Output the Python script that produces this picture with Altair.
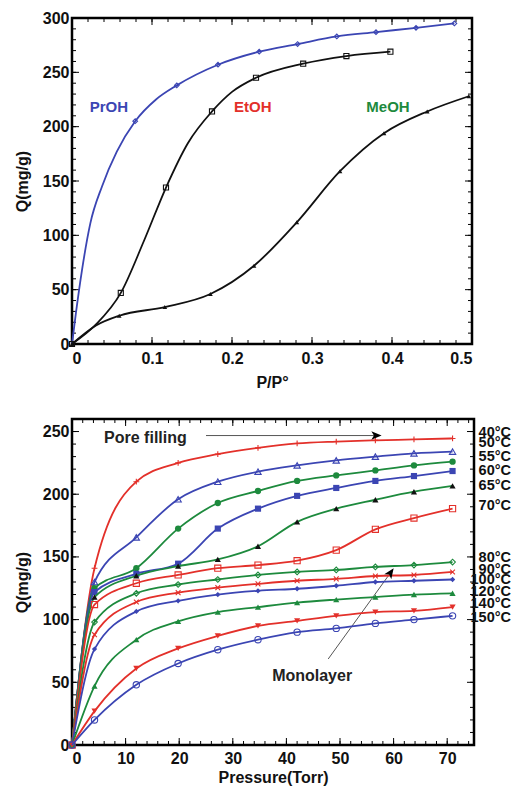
import altair as alt
import pandas as pd

FONT = "Liberation Sans"
RED = "#e3302a"
BLUE = "#3b45b3"
GREEN = "#1d8a3d"
BLACK = "#111111"

# ---------------- Top panel: alcohol isotherms ----------------
proh_x = [0, 0.005, 0.0125, 0.0229, 0.0375, 0.056, 0.079, 0.105, 0.131, 0.1825, 0.234, 0.282, 0.331, 0.38, 0.43, 0.478]
proh_q = [0, 29, 68, 111, 145, 177, 205, 225, 238, 257, 269, 276, 283, 287, 291, 295]
proh_mark = [0, 0, 0, 0, 0, 0, 1, 0, 1, 1, 1, 1, 1, 1, 1, 1]

etoh_x = [0, 0.03, 0.061, 0.09, 0.1175, 0.145, 0.175, 0.2, 0.23, 0.289, 0.343, 0.398]
etoh_q = [0, 18, 47, 95, 144, 185, 214, 232, 245, 258, 265, 269]
etoh_mark = [1, 0, 1, 0, 1, 0, 1, 0, 1, 1, 1, 1]

meoh_x = [0, 0.03, 0.059, 0.116, 0.173, 0.2275, 0.281, 0.335, 0.39, 0.444, 0.496]
meoh_q = [0, 17, 26, 34, 46, 72, 112, 159, 194, 214, 228]
meoh_mark = [1, 0, 1, 1, 1, 1, 1, 1, 1, 1, 1]

top_names = ["PrOH", "EtOH", "MeOH"]
top_label_x = [0.046, 0.226, 0.395]
top_label_q = [218, 218, 218]

top_x_major = [0, 0.1, 0.2, 0.3, 0.4, 0.5]
top_x_minor = [round(i * 0.02, 2) for i in range(26)]
top_y_major = [0, 50, 100, 150, 200, 250, 300]
top_y_minor = list(range(0, 301, 10))

# ---------------- Bottom panel: temperature isotherms ----------------
pressure = [0, 4.2, 12, 19.8, 27.2, 34.7, 42, 49.3, 56.6, 63.8, 71]
temps = ["40°C", "50°C", "55°C", "60°C", "65°C", "70°C",
         "80°C", "90°C", "100°C", "120°C", "140°C", "150°C"]
q_40 = [0, 141, 210, 225, 232, 237, 240.5, 242, 243, 243.7, 244.5]
q_50 = [0, 130, 165.6, 196, 210, 218, 223, 227, 230, 232.6, 234]
q_55 = [0, 125, 141, 172.6, 193, 202.6, 210.6, 215, 219, 223, 226]
q_60 = [0, 122, 136.5, 144.6, 172.6, 188.5, 198.7, 205, 210.6, 214.5, 218.5]
q_65 = [0, 118, 135, 142.6, 148, 158.5, 178, 188.5, 195.6, 202, 206.6]
q_70 = [0, 112, 129, 135.6, 141, 143.5, 147, 155.4, 172, 181, 188.5]
q_80 = [0, 98, 121, 128, 132, 135.6, 138, 139.6, 142, 143.5, 145.9]
q_90 = [0, 88, 114, 121.5, 125.5, 128.5, 131, 132.5, 134.8, 135.6, 138]
q_100 = [0, 76.5, 106.5, 115, 120, 123, 124.6, 127, 130, 131, 132]
q_120 = [0, 47, 84, 98.6, 106, 110, 113.6, 116, 118, 120, 121]
q_140 = [0, 27, 61, 77, 87, 95, 99, 103, 106, 107, 110]
q_150 = [0, 20, 48, 65, 76, 84, 90, 93, 97, 100, 103]
bottom_q = [q_40, q_50, q_55, q_60, q_65, q_70, q_80, q_90, q_100, q_120, q_140, q_150]
temp_label_q = [249, 240.5, 229.5, 218.5, 206.5, 191, 149, 139.5, 131.5, 122, 112.5, 101]

bot_x_major = [0, 10, 20, 30, 40, 50, 60, 70]
bot_x_minor = list(range(0, 75, 2))
bot_y_major = [0, 50, 100, 150, 200, 250]
bot_y_minor = list(range(0, 261, 10))

# ---------------- styles ----------------
PLUS = "M-1,0L1,0M0,-1L0,1"
XMARK = "M-0.8,-0.8L0.8,0.8M-0.8,0.8L0.8,-0.8"
ARROW = "M0,-1L0.75,0.8L0,0.35L-0.75,0.8Z"

top_styles = [
    dict(line=BLUE, mcolor=BLUE, shape="diamond", filled=False, size=22, text=BLUE),
    dict(line=BLACK, mcolor=BLACK, shape="square", filled=False, size=26, text=RED),
    dict(line=BLACK, mcolor=BLACK, shape="triangle-up", filled=True, size=22, text=GREEN),
]
bottom_styles = [
    dict(line=RED, mcolor=RED, shape=PLUS, filled=False, size=34),
    dict(line=BLUE, mcolor=BLUE, shape="triangle-up", filled=False, size=40),
    dict(line=GREEN, mcolor=GREEN, shape="circle", filled=True, size=40),
    dict(line=BLUE, mcolor=BLUE, shape="square", filled=True, size=38),
    dict(line=GREEN, mcolor=BLACK, shape="triangle-up", filled=True, size=38),
    dict(line=RED, mcolor=RED, shape="square", filled=False, size=38),
    dict(line=GREEN, mcolor=GREEN, shape="diamond", filled=False, size=32),
    dict(line=RED, mcolor=RED, shape=XMARK, filled=False, size=36),
    dict(line=BLUE, mcolor=BLUE, shape="diamond", filled=True, size=28),
    dict(line=GREEN, mcolor=GREEN, shape="triangle-up", filled=True, size=38),
    dict(line=RED, mcolor=RED, shape="triangle-down", filled=True, size=38),
    dict(line=BLUE, mcolor=BLUE, shape="circle", filled=False, size=40),
]


def frame_ticks(X, Y, xmaj, xmin, ymaj, ymin, W, H, big=7, small=4):
    layers = []
    for vals, L in ((xmin, small), (xmaj, big)):
        c = alt.Chart(pd.DataFrame({"x": vals}))
        layers.append(c.mark_rule(color="black", strokeWidth=1).encode(x=X, y=alt.value(H), y2=alt.value(H - L)))
        layers.append(c.mark_rule(color="black", strokeWidth=1).encode(x=X, y=alt.value(0), y2=alt.value(L)))
    for vals, L in ((ymin, small), (ymaj, big)):
        c = alt.Chart(pd.DataFrame({"y": vals}))
        layers.append(c.mark_rule(color="black", strokeWidth=1).encode(y=Y, x=alt.value(0), x2=alt.value(L)))
        layers.append(c.mark_rule(color="black", strokeWidth=1).encode(y=Y, x=alt.value(W), x2=alt.value(W - L)))
    return layers


def series_layers(X, Y, xs, qs, marks, st):
    df = pd.DataFrame({"x": xs, "y": qs, "m": marks})
    line = alt.Chart(df).mark_line(color=st["line"], strokeWidth=1.8, interpolate="monotone").encode(x=X, y=Y)
    pts = alt.Chart(df[df["m"] == 1]).mark_point(
        shape=st["shape"], filled=st["filled"], color=st["mcolor"], size=st["size"],
        strokeWidth=1.1, opacity=1).encode(x=X, y=Y)
    return [line, pts]


# ---------------- top chart ----------------
TW, TH = 400, 326
Xt = alt.X("x:Q", scale=alt.Scale(domain=[0, 0.5], nice=False, zero=False),
           axis=alt.Axis(values=top_x_major, format="~g", title="P/P°", labelPadding=6, titlePadding=8))
Yt = alt.Y("y:Q", scale=alt.Scale(domain=[0, 300], nice=False),
           axis=alt.Axis(values=top_y_major, title="Q(mg/g)"))

top_layers = frame_ticks(Xt, Yt, top_x_major, top_x_minor, top_y_major, top_y_minor, TW, TH)
for xs, qs, mk, st in ((proh_x, proh_q, proh_mark, top_styles[0]),
                       (etoh_x, etoh_q, etoh_mark, top_styles[1]),
                       (meoh_x, meoh_q, meoh_mark, top_styles[2])):
    top_layers += series_layers(Xt, Yt, xs, qs, mk, st)
for name, lx, lq, st in zip(top_names, top_label_x, top_label_q, top_styles):
    d = pd.DataFrame({"x": [lx], "y": [lq], "t": [name]})
    top_layers.append(alt.Chart(d).mark_text(font=FONT, fontWeight="bold", fontSize=15, color=st["text"])
                      .encode(x=Xt, y=Yt, text="t:N"))
top = alt.layer(*top_layers).properties(width=TW, height=TH)

# ---------------- bottom chart ----------------
BW, BH = 402, 326
Xb = alt.X("x:Q", scale=alt.Scale(domain=[0, 75], nice=False, zero=False),
           axis=alt.Axis(values=bot_x_major, title="Pressure(Torr)", labelPadding=5, titlePadding=3))
Yb = alt.Y("y:Q", scale=alt.Scale(domain=[0, 260], nice=False),
           axis=alt.Axis(values=bot_y_major, title="Q(mg/g)"))

bot_layers = frame_ticks(Xb, Yb, bot_x_major, bot_x_minor, bot_y_major, bot_y_minor, BW, BH)

# annotations (gray leader lines + black arrow heads)
pore_line = pd.DataFrame({"x": [25, 56.7], "y": [246.8, 246.8]})
mono_line = pd.DataFrame({"x": [47.8, 59.4], "y": [68.6, 137.2]})
bot_layers.append(alt.Chart(pore_line).mark_line(color="#555555", strokeWidth=1).encode(x=Xb, y=Yb))
bot_layers.append(alt.Chart(mono_line).mark_line(color="#555555", strokeWidth=1).encode(x=Xb, y=Yb))

for qs, st in zip(bottom_q, bottom_styles):
    bot_layers += series_layers(Xb, Yb, pressure, qs, [1] * len(qs), st)

bot_layers.append(alt.Chart(pore_line.tail(1)).mark_point(shape=ARROW, filled=True, color="black", size=130,
                                                          angle=90, opacity=1).encode(x=Xb, y=Yb))
bot_layers.append(alt.Chart(mono_line.tail(1)).mark_point(shape=ARROW, filled=True, color="black", size=130,
                                                          angle=35, opacity=1).encode(x=Xb, y=Yb))
ann = pd.DataFrame({"x": [13.7, 44.8], "y": [245, 55], "t": ["Pore filling", "Monolayer"]})
bot_layers.append(alt.Chart(ann).mark_text(font=FONT, fontWeight="bold", fontSize=16, color="#222222")
                  .encode(x=Xb, y=Yb, text="t:N"))

tl = pd.DataFrame({"y": temp_label_q, "t": temps})
bot_layers.append(alt.Chart(tl).mark_text(font=FONT, fontWeight="bold", fontSize=14.5, color="#111111",
                                          align="right", baseline="middle")
                  .encode(x=alt.value(BW + 37), y=Yb, text="t:N"))

bottom = alt.layer(*bot_layers).properties(width=BW, height=BH)

chart = (alt.vconcat(top, bottom, spacing=25)
         .properties(padding={"left": 5, "top": 0, "right": 0, "bottom": 0})
         .configure_view(stroke="black", strokeWidth=2.5)
         .configure_axis(grid=False, ticks=False, domain=False,
                         labelFont=FONT, labelFontSize=16, labelFontWeight="bold", labelColor="#111111",
                         titleFont=FONT, titleFontSize=16, titleFontWeight="bold", titleColor="#111111")
         .configure_axisY(labelPadding=3, titlePadding=12))

chart.save("out.html", embed_options={"renderer": "svg", "actions": False})
